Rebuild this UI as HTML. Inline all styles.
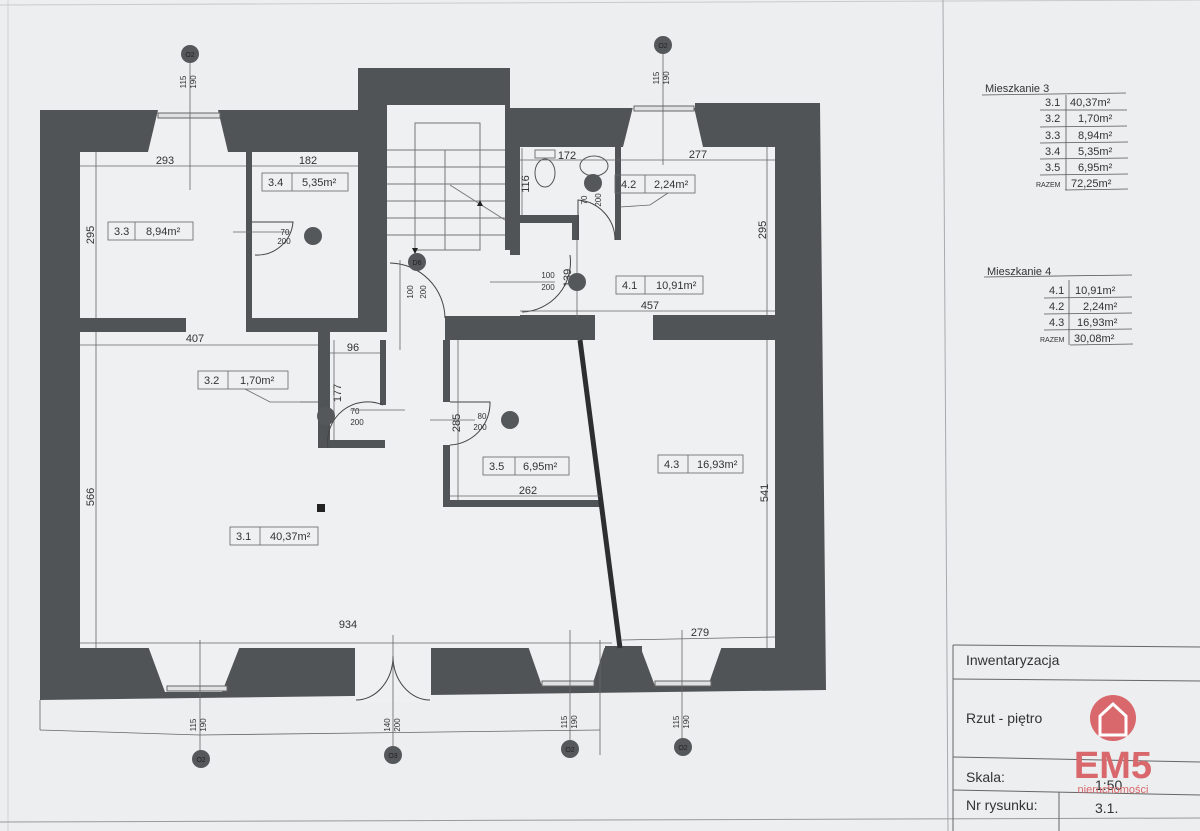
<!DOCTYPE html>
<html><head><meta charset="utf-8"><style>
html,body{margin:0;padding:0;background:#e9ebed;}
svg{display:block}
text{font-family:"Liberation Sans",sans-serif;fill:#333;}
</style></head><body>
<svg width="1200" height="831" viewBox="0 0 1200 831" xmlns="http://www.w3.org/2000/svg">
<rect width="1200" height="831" fill="#eceef0"/>
<line x1="0" y1="5" x2="1200" y2="0" stroke="#c8cacc"/>
<line x1="8" y1="0" x2="8" y2="831" stroke="#cfd1d3"/>
<line x1="943" y1="0" x2="948" y2="831" stroke="#a8aaad"/>
<line x1="0" y1="822" x2="1200" y2="818" stroke="#999"/>

<polygon points="40,110 358,110 358,68 510,68 510,108 695,108 695,103 820,103 826,690 40,700" fill="#515456"/>
<g fill="#eef0f2">
<polygon points="158,110 218,110 228,152 148,152"/>
<polygon points="634,103 693,103 703,147 623,147"/>
<rect x="80" y="152" width="166" height="166"/>
<rect x="252" y="152" width="106" height="166"/>
<rect x="387" y="105" width="118" height="145"/>
<rect x="387" y="250" width="133" height="68"/>
<rect x="387" y="318" width="58" height="110"/>
<rect x="520" y="147" width="255" height="168"/>
<rect x="80" y="332" width="695" height="316"/>
<rect x="186" y="316" width="60" height="20"/>
<rect x="595" y="314" width="58" height="28"/>
<polygon points="148,646 240,646 222,692 165,692"/>
<rect x="355" y="646" width="76" height="56"/>
<polygon points="528,646 605,646 592,686 542,686"/>
<polygon points="640,646 722,646 708,686 655,686"/>
</g>
<g fill="#515456">
<rect x="246" y="152" width="6" height="70"/>
<rect x="246" y="255" width="6" height="63"/>
<rect x="246" y="318" width="140" height="14"/>
<rect x="80" y="318" width="106" height="14"/>
<rect x="318" y="330" width="12" height="118"/>
<rect x="318" y="440" width="67" height="8"/>
<rect x="380" y="340" width="6" height="65"/>
<rect x="358" y="105" width="29" height="215"/>
<rect x="510" y="147" width="10" height="108"/>
<rect x="510" y="215" width="68" height="8"/>
<rect x="572" y="215" width="7" height="25"/>
<rect x="615" y="147" width="6" height="93"/>
<rect x="445" y="316" width="150" height="24"/>
<rect x="653" y="315" width="122" height="25"/>
<rect x="443" y="340" width="7" height="62"/>
<rect x="443" y="445" width="7" height="62"/>
<rect x="443" y="500" width="157" height="7"/>
<rect x="605" y="646" width="37" height="40"/>
</g>
<line x1="580" y1="340" x2="620" y2="648" stroke="#2c2e30" stroke-width="5"/>
<g fill="#dfe1e3" stroke="#666" stroke-width="1">
<rect x="158" y="113" width="62" height="5"/><rect x="634" y="106" width="60" height="5"/>
<rect x="167" y="686" width="60" height="5"/><rect x="542" y="681" width="52" height="5"/><rect x="655" y="681" width="56" height="5"/>
</g>
<g stroke="#777" stroke-width="1" fill="none">
<rect x="415" y="123" width="65" height="127"/>
<line x1="445" y1="150" x2="445" y2="250"/>
<line x1="387" y1="150" x2="505" y2="150"/><line x1="387" y1="167" x2="505" y2="167"/><line x1="387" y1="184" x2="505" y2="184"/>
<line x1="387" y1="201" x2="505" y2="201"/><line x1="387" y1="218" x2="505" y2="218"/><line x1="387" y1="235" x2="505" y2="235"/>
<line x1="450" y1="185" x2="505" y2="220"/><line x1="480" y1="200" x2="480" y2="250"/>
<line x1="415" y1="245" x2="415" y2="255"/>
</g>
<polygon points="477,206 483,206 480,200" fill="#222"/>
<polygon points="412,248 418,248 415,254" fill="#222"/>
<g stroke="#444" fill="none" stroke-width="1">
<path d="M252,222 L293,222 A36,36 0 0 1 255,255"/>
<path d="M390,263 A56,56 0 0 1 445,318"/>
<path d="M570,255 A50,50 0 0 1 522,312"/>
<path d="M328,448 A40,40 0 0 1 383,405"/>
<path d="M450,402 L490,402 A42,42 0 0 1 450,445"/>
<path d="M578,240 L578,200 A40,40 0 0 1 615,240"/>
<path d="M356,700 A37,44 0 0 0 393,656"/><path d="M430,700 A37,44 0 0 1 393,656"/>
</g>
<ellipse cx="545" cy="173" rx="10" ry="14" fill="none" stroke="#555"/>
<ellipse cx="594" cy="166" rx="14" ry="10" fill="none" stroke="#555"/>
<rect x="535" y="150" width="20" height="8" fill="none" stroke="#777"/>
<g stroke="#666" stroke-width="0.8">
<line x1="80" y1="166" x2="246" y2="166"/><line x1="252" y1="166" x2="358" y2="166"/>
<line x1="96" y1="152" x2="96" y2="318"/>
<line x1="80" y1="345" x2="318" y2="345"/><line x1="96" y1="332" x2="96" y2="648"/>
<line x1="330" y1="353" x2="380" y2="353"/><line x1="334" y1="340" x2="334" y2="440"/>
<line x1="520" y1="160" x2="775" y2="160"/><line x1="522" y1="148" x2="522" y2="215"/>
<line x1="520" y1="311" x2="775" y2="311"/><line x1="767" y1="147" x2="767" y2="315"/>
<line x1="458" y1="340" x2="458" y2="500"/><line x1="450" y1="496" x2="600" y2="496"/>
<line x1="80" y1="643" x2="612" y2="643"/><line x1="622" y1="640" x2="775" y2="637"/>
<line x1="767" y1="340" x2="767" y2="648"/>
<line x1="190" y1="55" x2="190" y2="190"/><line x1="663" y1="50" x2="663" y2="165"/>
<line x1="200" y1="640" x2="200" y2="755"/><line x1="393" y1="635" x2="393" y2="752"/>
<line x1="570" y1="630" x2="570" y2="750"/><line x1="682" y1="630" x2="682" y2="750"/>
<line x1="600" y1="640" x2="600" y2="755"/>
<line x1="40" y1="700" x2="40" y2="730"/><line x1="40" y1="730" x2="200" y2="735" /><line x1="200" y1="735" x2="600" y2="730"/>
<line x1="233" y1="232" x2="290" y2="232"/><line x1="400" y1="260" x2="400" y2="350"/>
<line x1="490" y1="282" x2="555" y2="282"/><line x1="577" y1="240" x2="577" y2="318"/>
<line x1="350" y1="410" x2="405" y2="410"/><line x1="430" y1="420" x2="475" y2="420"/>
<line x1="300" y1="402" x2="318" y2="402"/>
</g>
<g font-size="11" text-anchor="middle">
<text x="165" y="164">293</text><text x="308" y="164">182</text>
<text x="195" y="342">407</text><text x="353" y="351">96</text>
<text x="567" y="159">172</text><text x="698" y="158">277</text>
<text x="650" y="309">457</text><text x="528" y="494">262</text>
<text x="348" y="628">934</text><text x="700" y="636">279</text>
<text transform="translate(94,235) rotate(-90)">295</text>
<text transform="translate(94,497) rotate(-90)">566</text>
<text transform="translate(766,230) rotate(-90)">295</text>
<text transform="translate(768,493) rotate(-90)">541</text>
<text transform="translate(529,184) rotate(-90)">116</text>
<text transform="translate(341,393) rotate(-90)">177</text>
<text transform="translate(460,423) rotate(-90)">285</text>
<text transform="translate(571,278) rotate(-90)">139</text>
</g>
<g font-size="8" text-anchor="middle">
<text x="285" y="235">70</text><text x="284" y="244">200</text>
<text x="548" y="278">100</text><text x="548" y="290">200</text>
<text x="355" y="414">70</text><text x="357" y="425">200</text>
<text x="482" y="419">80</text><text x="480" y="430">200</text>
<text transform="translate(413,292) rotate(-90)">100</text><text transform="translate(426,292) rotate(-90)">200</text>
<text transform="translate(587,200) rotate(-90)">70</text><text transform="translate(601,200) rotate(-90)">200</text>
<text transform="translate(186,82) rotate(-90)">115</text><text transform="translate(196,82) rotate(-90)">190</text>
<text transform="translate(659,78) rotate(-90)">115</text><text transform="translate(669,78) rotate(-90)">190</text>
<text transform="translate(196,725) rotate(-90)">115</text><text transform="translate(206,725) rotate(-90)">190</text>
<text transform="translate(390,725) rotate(-90)">140</text><text transform="translate(400,725) rotate(-90)">200</text>
<text transform="translate(567,722) rotate(-90)">115</text><text transform="translate(577,722) rotate(-90)">190</text>
<text transform="translate(679,722) rotate(-90)">115</text><text transform="translate(689,722) rotate(-90)">190</text>
</g>
<g fill="#55585b">
<circle cx="190" cy="54" r="9"/><circle cx="663" cy="45" r="9"/>
<circle cx="201" cy="759" r="9"/><circle cx="393" cy="755" r="9"/><circle cx="570" cy="749" r="9"/><circle cx="683" cy="747" r="9"/>
<circle cx="313" cy="236" r="9"/><circle cx="417" cy="262" r="9"/><circle cx="577" cy="282" r="9"/>
<circle cx="593" cy="183" r="9"/><circle cx="326" cy="416" r="9"/><circle cx="510" cy="420" r="9"/>
</g>
<g font-size="7" text-anchor="middle" style="fill:#222">
<text x="190" y="57" style="fill:#222">O2</text><text x="663" y="48" style="fill:#222">O2</text>
<text x="201" y="762" style="fill:#222">O2</text><text x="393" y="758" style="fill:#222">O3</text>
<text x="570" y="752" style="fill:#222">O2</text><text x="683" y="750" style="fill:#222">O2</text>
<text x="417" y="265" style="fill:#222">D6</text>
</g>
<rect x="317" y="504" width="8" height="8" fill="#222"/>
<g fill="none" stroke="#666" stroke-width="0.8">
<rect x="108" y="222" width="85" height="18"/><line x1="135" y1="222" x2="135" y2="240"/>
<rect x="262" y="173" width="86" height="18"/><line x1="292" y1="173" x2="292" y2="191"/>
<rect x="198" y="371" width="90" height="18"/><line x1="228" y1="371" x2="228" y2="389"/>
<rect x="615" y="175" width="80" height="18"/><line x1="645" y1="175" x2="645" y2="193"/>
<rect x="616" y="276" width="87" height="18"/><line x1="645" y1="276" x2="645" y2="294"/>
<rect x="483" y="457" width="86" height="18"/><line x1="515" y1="457" x2="515" y2="475"/>
<rect x="658" y="455" width="85" height="18"/><line x1="688" y1="455" x2="688" y2="473"/>
<rect x="230" y="527" width="88" height="18"/><line x1="260" y1="527" x2="260" y2="545"/>
<polyline points="245,389 270,402 318,402"/><polyline points="668,193 650,205 620,207"/>
</g>
<g font-size="11">
<text x="114" y="235">3.3</text><text x="146" y="235">8,94m²</text>
<text x="268" y="186">3.4</text><text x="302" y="186">5,35m²</text>
<text x="204" y="384">3.2</text><text x="240" y="384">1,70m²</text>
<text x="621" y="188">4.2</text><text x="654" y="188">2,24m²</text>
<text x="622" y="289">4.1</text><text x="656" y="289">10,91m²</text>
<text x="489" y="470">3.5</text><text x="523" y="470">6,95m²</text>
<text x="664" y="468">4.3</text><text x="697" y="468">16,93m²</text>
<text x="236" y="540">3.1</text><text x="270" y="540">40,37m²</text>
</g>
<g font-size="11">
<text x="985" y="92">Mieszkanie  3</text>
<text x="987" y="275">Mieszkanie  4</text>
</g>
<g stroke="#555" stroke-width="0.8">
<line x1="982" y1="95" x2="1126" y2="93"/>
<line x1="1040" y1="110" x2="1127" y2="110"/><line x1="1040" y1="127" x2="1127" y2="126"/><line x1="1040" y1="143" x2="1128" y2="142"/>
<line x1="1040" y1="159" x2="1128" y2="158"/><line x1="1040" y1="175" x2="1128" y2="174"/><line x1="1065" y1="190" x2="1128" y2="189"/>
<line x1="1066" y1="95" x2="1066" y2="190"/>
<line x1="984" y1="277" x2="1132" y2="275"/>
<line x1="1044" y1="298" x2="1132" y2="297"/><line x1="1044" y1="314" x2="1132" y2="313"/><line x1="1044" y1="330" x2="1132" y2="329"/><line x1="1070" y1="345" x2="1133" y2="344"/>
<line x1="1069" y1="280" x2="1069" y2="345"/>
</g>
<g font-size="11">
<text x="1045" y="106">3.1</text><text x="1070" y="106">40,37m²</text>
<text x="1045" y="122">3.2</text><text x="1078" y="122">1,70m²</text>
<text x="1045" y="139">3.3</text><text x="1078" y="139">8,94m²</text>
<text x="1045" y="155">3.4</text><text x="1078" y="155">5,35m²</text>
<text x="1045" y="171">3.5</text><text x="1078" y="171">6,95m²</text>
<text x="1036" y="187" font-size="7">RAZEM</text><text x="1071" y="187">72,25m²</text>
<text x="1049" y="294">4.1</text><text x="1075" y="294">10,91m²</text>
<text x="1049" y="310">4.2</text><text x="1083" y="310">2,24m²</text>
<text x="1049" y="326">4.3</text><text x="1077" y="326">16,93m²</text>
<text x="1040" y="342" font-size="7">RAZEM</text><text x="1074" y="342">30,08m²</text>
</g>
<g stroke="#666" stroke-width="1" fill="none">
<line x1="953" y1="645" x2="953" y2="831"/>
<line x1="953" y1="645" x2="1200" y2="647"/>
<line x1="953" y1="679" x2="1200" y2="681"/>
<line x1="953" y1="757" x2="1200" y2="762"/>
<line x1="953" y1="790" x2="1200" y2="795"/>
<line x1="1059" y1="792" x2="1059" y2="831"/>
</g>
<g font-size="14">
<text x="966" y="665">Inwentaryzacja</text>
<text x="966" y="723">Rzut - piętro</text>
<text x="966" y="782">Skala:</text>
<text x="966" y="810">Nr rysunku:</text>
<text x="1095" y="790">1:50</text>
<text x="1095" y="813">3.1.</text>
</g>
<circle cx="1113" cy="718" r="23" fill="#d9686c"/>
<path d="M1100,735 L1100,716 L1113,704 L1126,716 L1126,735 Z" fill="none" stroke="#fff" stroke-width="3"/>
<text x="1113" y="778" font-size="38" font-weight="bold" text-anchor="middle" style="fill:#d9686c">EM5</text>
<text x="1113" y="793" font-size="11" text-anchor="middle" style="fill:#d9686c">nieruchomości</text>
</svg>
</body></html>
